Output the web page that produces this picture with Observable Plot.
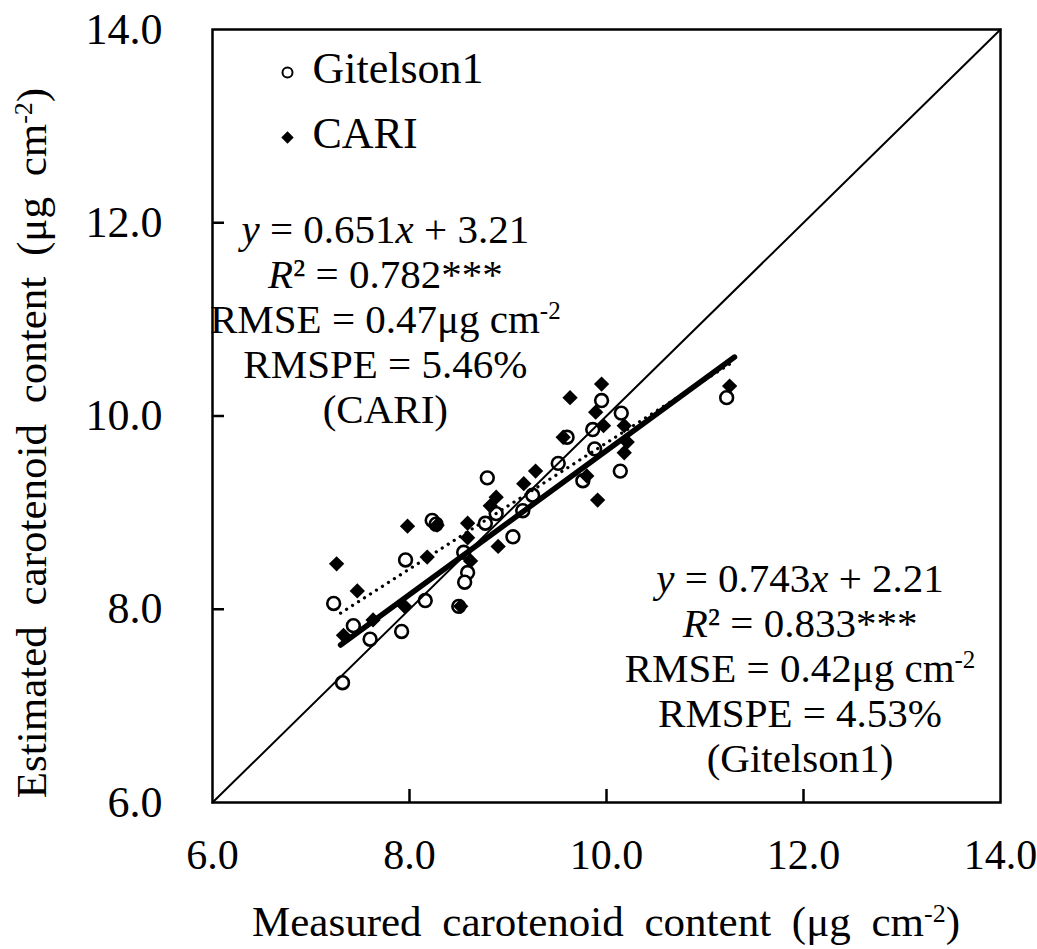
<!DOCTYPE html>
<html><head><meta charset="utf-8">
<script src="https://cdn.jsdelivr.net/npm/d3@7"></script>
<script src="https://cdn.jsdelivr.net/npm/@observablehq/plot@0.6"></script>
<style>
body{margin:0;background:#fff}
svg{font-family:"Liberation Serif","Times New Roman",serif}
</style>
</head><body><div id="chart"></div>
<script>
// Gitelson1 (open circles)
const gitMeasured  = [7.32,7.23,7.43,7.60,7.92,7.96,8.16,8.23,8.27,8.50,8.55,8.59,8.56,8.77,8.79,8.88,9.05,9.15,9.25,9.51,9.60,9.76,9.86,9.88,9.95,10.15,10.14,11.22];
const gitEstimated = [7.24,8.06,7.83,7.69,7.77,8.51,8.09,8.92,8.88,8.03,8.59,8.38,8.28,8.89,9.36,8.99,8.75,9.02,9.18,9.51,9.78,9.33,9.86,9.66,10.16,10.03,9.43,10.19];
// CARI (filled diamonds)
const cariMeasured  = [7.26,7.33,7.47,7.63,7.95,7.98,8.18,8.28,8.52,8.59,8.59,8.62,8.82,8.88,8.90,9.16,9.28,9.56,9.63,9.80,9.89,9.91,9.95,9.97,10.18,10.21,10.18,11.25];
const cariEstimated = [8.47,7.73,8.19,7.89,8.03,8.86,8.54,8.87,8.03,8.89,8.74,8.50,9.07,9.16,8.65,9.30,9.43,9.78,10.19,9.38,10.04,9.13,10.33,9.90,9.90,9.73,9.62,10.31];

// regression lines (end points) and 1:1 line
const fitX     = [7.3, 11.3];
const gitFitY  = [7.63, 10.61];
const cariFitY = [7.96, 10.57];
const oneToOne = [6, 14];

const axisTicks  = [6, 8, 10, 12, 14];
const innerTicks = [8, 10, 12];
const legendLabels = ["Gitelson1", "CARI"];

const xTitle = [["Measured carotenoid content (μg cm"], ["-2", "sup"], [")", "down"]];
const yTitle = [["Estimated carotenoid content (μg cm"], ["-2", "sup"], [")", "down"]];

const cariStats = [
  [["y","i"],[" = 0.651"],["x","i"],[" + 3.21"]],
  [["R","i"],["² = 0.782***"]],
  [["RMSE = 0.47μg cm"],["-2","sup"]],
  [["RMSPE = 5.46%"]],
  [["(CARI)"]]
];
const gitStats = [
  [["y","i"],[" = 0.743"],["x","i"],[" + 2.21"]],
  [["R","i"],["² = 0.833***"]],
  [["RMSE = 0.42μg cm"],["-2","sup"]],
  [["RMSPE = 4.53%"]],
  [["(Gitelson1)"]]
];
const cariStatsAnchor = [7.76, 11.79];
const gitStatsAnchor  = [11.97, 8.17];

const git  = gitMeasured.map((m, i) => ({m, e: gitEstimated[i]}));
const cari = cariMeasured.map((m, i) => ({m, e: cariEstimated[i]}));
const gitFit  = fitX.map((x, i) => ({x, y: gitFitY[i]}));
const cariFit = fitX.map((x, i) => ({x, y: cariFitY[i]}));

const plot = Plot.plot({
  width: 1037,
  height: 949,
  marginLeft: 212,
  marginRight: 37,
  marginTop: 29,
  marginBottom: 147,
  style: {fontFamily: '"Liberation Serif","Times New Roman",serif', fontSize: "44px", color: "black", background: "white"},
  x: {domain: [6, 14], label: null},
  y: {domain: [6, 14], label: null},
  marks: [
    Plot.axisX(axisTicks, {tickSize: 0, tickPadding: 37, tickFormat: d => d.toFixed(1), fontSize: 42, fill: "black", label: null}),
    Plot.axisY(axisTicks, {tickSize: 0, tickPadding: 50, tickFormat: d => d.toFixed(1), fontSize: 44, fill: "black", label: null}),
    Plot.tickX(innerTicks, {x: d => d, insetTop: 760, stroke: "black", strokeWidth: 2.5}),
    Plot.tickY(innerTicks, {y: d => d, insetRight: 776, stroke: "black", strokeWidth: 2.5}),
    Plot.dot(git, {x: "m", y: "e", r: 6.4, stroke: "black", strokeWidth: 2.6, fill: "white"}),
    Plot.dot(cari, {x: "m", y: "e", symbol: "diamond2", r: 6.9, fill: "black", stroke: "none"}),
    Plot.line(oneToOne, {x: d => d, y: d => d, stroke: "black", strokeWidth: 2}),
    Plot.line(cariFit, {x: "x", y: "y", stroke: "black", strokeWidth: 3.2, strokeDasharray: "0.1 7", strokeLinecap: "round"}),
    Plot.line(gitFit, {x: "x", y: "y", stroke: "black", strokeWidth: 5.5, strokeLinecap: "round"}),
    Plot.frame({stroke: "black", strokeWidth: 2.5}),
    // legend
    Plot.dot([legendLabels[0]], {frameAnchor: "top-left", dx: 75, dy: 43, r: 5, stroke: "black", strokeWidth: 2, fill: "white"}),
    Plot.dot([legendLabels[1]], {frameAnchor: "top-left", dx: 75, dy: 108, symbol: "diamond2", r: 5.6, fill: "black"}),
    Plot.text([legendLabels[0]], {text: d => d, frameAnchor: "top-left", lineAnchor: "middle", dx: 100, dy: 39, textAnchor: "start", fontSize: 44, fill: "black"}),
    Plot.text([legendLabels[1]], {text: d => d, frameAnchor: "top-left", lineAnchor: "middle", dx: 100, dy: 104, textAnchor: "start", fontSize: 44, fill: "black"})
  ]
});

document.getElementById("chart").appendChild(plot);

const sx = plot.scale("x"), sy = plot.scale("y");
const svg = d3.select(plot);

function addSegments(t, segs, size) {
  const shift = Math.round(size * 0.33);
  segs.forEach(([s, k]) => {
    const ts = t.append("tspan").text(s);
    if (k === "i") ts.attr("font-style", "italic");
    if (k === "sup") ts.attr("font-size", Math.round(size * 0.6)).attr("dy", -shift);
    if (k === "down") ts.attr("dy", shift);
  });
}
function addBlock(lines, anchor) {
  const cx = sx.apply(anchor[0]), cy = sy.apply(anchor[1]);
  const g = svg.append("g").attr("font-size", 41).attr("text-anchor", "middle").attr("fill", "black");
  lines.forEach((segs, i) => {
    const t = g.append("text").attr("x", cx).attr("y", cy + i * 45);
    addSegments(t, segs, 41);
  });
}
addBlock(cariStats, cariStatsAnchor);
addBlock(gitStats, gitStatsAnchor);

// axis titles
const xMid = (sx.apply(6) + sx.apply(14)) / 2;
const xt = svg.append("text").attr("x", xMid).attr("y", 936).attr("text-anchor", "middle")
  .attr("font-size", 43).attr("word-spacing", "10px").attr("fill", "black");
addSegments(xt, xTitle, 43);
const yt = svg.append("text").attr("transform", "translate(46,443) rotate(-90)").attr("text-anchor", "middle")
  .attr("font-size", 43).attr("word-spacing", "10px").attr("fill", "black");
addSegments(yt, yTitle, 43);
</script>
</body></html>
